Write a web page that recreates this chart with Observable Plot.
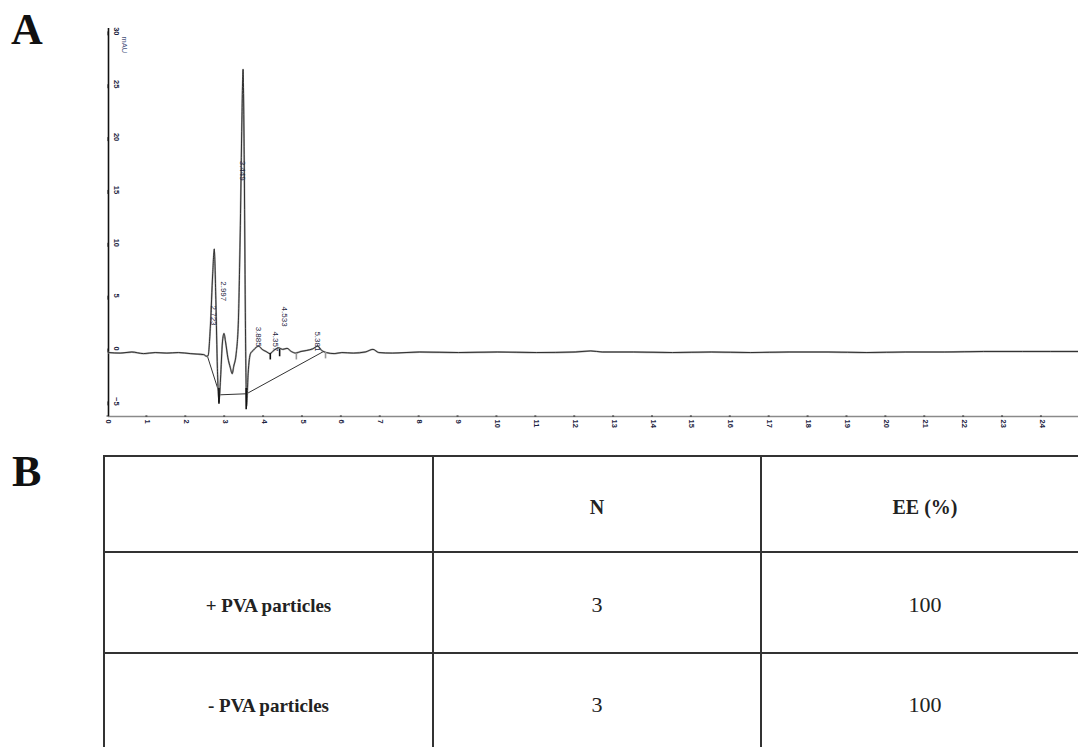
<!DOCTYPE html>
<html><head><meta charset="utf-8">
<script src="https://cdn.jsdelivr.net/npm/d3@7"></script>
<script src="https://cdn.jsdelivr.net/npm/@observablehq/plot@0.6"></script>
<style>
html,body{margin:0;padding:0;background:#fff;overflow:hidden;}
#page{position:relative;width:1078px;height:747px;overflow:hidden;background:#fff;}
.panel{position:absolute;font-family:"Liberation Serif","DejaVu Serif",serif;font-weight:bold;font-size:44px;line-height:1;color:#111;}
#chart{position:absolute;left:0;top:0;}
#tbl{position:absolute;left:103px;top:455px;width:987px;border-collapse:collapse;table-layout:fixed;}
#tbl td{border:2px solid #333;text-align:center;vertical-align:middle;padding:0;font-family:"Liberation Serif","DejaVu Serif",serif !important;color:#222;}
#tbl td.h{font-weight:bold;font-size:20px;padding-top:6px;}
#tbl td.l{font-weight:bold;font-size:19px;padding-top:6px;}
#tbl td.v{font-weight:normal;font-size:22px;padding-top:4px;}
</style></head>
<body><div id="page">
<div class="panel" style="left:11px;top:8px;">A</div>
<div class="panel" style="left:12px;top:450px;">B</div>
<div id="chart"></div>
<table id="tbl"></table>
</div>
<script>
// ---- Chromatogram (panel A) ----
const time   = [0.0, 0.3, 0.6, 0.9, 1.2, 1.5, 1.8, 2.1, 2.3, 2.45, 2.52, 2.56, 2.62, 2.68, 2.72, 2.76, 2.80, 2.84, 2.88, 2.93, 2.97, 3.01, 3.07, 3.13, 3.18, 3.22, 3.28, 3.34, 3.39, 3.43, 3.46, 3.49, 3.52, 3.55, 3.59, 3.65, 3.72, 3.80, 3.86, 3.95, 4.05, 4.15, 4.25, 4.37, 4.48, 4.59, 4.70, 4.81, 4.95, 5.10, 5.25, 5.38, 5.48, 5.60, 5.80, 6.00, 6.30, 6.60, 6.80, 6.95, 7.30, 8.0, 9.0, 10.0, 11.0, 12.0, 12.4, 12.7, 13.5, 14.5, 15.5, 16.5, 17.5, 18.5, 19.5, 20.5, 21.5, 22.5, 23.5, 24.94];
const signal = [0.0, -0.05, 0.05, -0.1, 0.0, -0.05, 0.0, -0.1, -0.15, -0.2, -0.35, -0.3, 2.5, 7.5, 9.8, 5.0, -1.5, -4.7, -2.5, 1.0, 1.8, 1.0, -0.5, -1.4, -2.0, -1.3, -0.2, 3.0, 12.0, 22.0, 26.8, 18.0, 3.0, -5.1, -2.0, -0.1, 0.2, 0.5, 0.6, 0.3, 0.1, -0.1, 0.2, 0.45, 0.3, 0.4, 0.1, -0.05, 0.1, 0.2, 0.35, 0.6, 0.2, 0.0, -0.1, 0.0, -0.05, 0.05, 0.3, 0.0, -0.05, 0.05, 0.0, 0.05, 0.0, 0.05, 0.15, 0.05, 0.05, 0.0, 0.05, 0.0, 0.05, 0.05, 0.0, 0.05, 0.05, 0.1, 0.1, 0.1];
// integration baseline
const baseTime  = [2.54, 2.86, 3.55, 5.53];
const baseValue = [-0.3, -4.0, -3.9, 0.1];
// peak start / end markers
const markTime   = [2.84, 3.54, 4.16, 4.40, 4.83, 5.58];
const markTop    = [-3.4, -3.4, -0.1, 0.3, -0.1, 0.0];
const markBottom = [-4.9, -5.4, -0.7, -0.4, -0.7, -0.6];
const markDark   = [true, true, true, true, false, false];
// peak retention-time labels
const peakLabel = ["2.723", "2.997", "3.449", "3.885", "4.357", "4.533", "5.381"];
const peakTime  = [2.70, 2.96, 3.44, 3.86, 4.29, 4.52, 5.37];
const peakValue = [3.5, 5.8, 17.2, 1.5, 1.05, 3.4, 1.05];
// axes
const xTicks = [0,1,2,3,4,5,6,7,8,9,10,11,12,13,14,15,16,17,18,19,20,21,22,23,24];
const yTicks = [-5,0,5,10,15,20,25,30];
const xDomain = [0, 24.94];
const yDomain = [-6.05, 30.65];
const yUnit = "mAU";

// ---- Table (panel B) ----
const colHeaders = ["", "N", "EE (%)"];
const rowLabels  = ["+ PVA particles", "- PVA particles"];
const nValues    = [3, 3];
const eeValues   = [100, 100];

const trace = time.map((t, i) => ({t, v: signal[i]}));
const baseline = baseTime.map((t, i) => ({t, v: baseValue[i]}));
const markers = markTime.map((t, i) => ({t, top: markTop[i], bottom: markBottom[i], dark: markDark[i]}));
const peaks = peakLabel.map((s, i) => ({s, t: peakTime[i], v: peakValue[i]}));

const chart = Plot.plot({
  width: 1078, height: 440,
  marginLeft: 108, marginRight: 0, marginTop: 28, marginBottom: 24,
  x: {domain: xDomain},
  y: {domain: yDomain},
  style: {fontFamily: "'Liberation Sans', Arial, sans-serif", background: "transparent", color: "#223"},
  marks: [
    Plot.ruleY([yDomain[0]], {stroke: "#8a8a8a", strokeWidth: 1.5}),
    Plot.ruleX([xDomain[0]], {stroke: "#111", strokeWidth: 1.6}),
    Plot.axisY(yTicks, {tickSize: -4, tickPadding: -4, rotate: 90, textAnchor: "middle", lineAnchor: "middle", dy: -4, fontSize: 7.5, fontWeight: "bold", fill: "#1c2340", stroke: "#111", label: null}),
    Plot.axisX(xTicks, {tickSize: 2, tickPadding: 1, rotate: 90, textAnchor: "start", lineAnchor: "middle", fontSize: 7.5, fontWeight: "bold", fill: "#1c2340", stroke: "#222", label: null}),
    Plot.text([yUnit], {frameAnchor: "top-left", dx: 19, dy: 8, rotate: 90, fontSize: 7.5, fill: "#4a5580"}),
    Plot.line(baseline, {x: "t", y: "v", stroke: "#333", strokeWidth: 1}),
    Plot.line(trace, {x: "t", y: "v", stroke: "#aaa", strokeWidth: 1.8, curve: "monotone-x"}),
    Plot.line(trace, {x: "t", y: "v", stroke: "#222", strokeWidth: 0.9, curve: "monotone-x"}),
    Plot.ruleX(markers, {x: "t", y1: "top", y2: "bottom", stroke: d => d.dark ? "#111" : "#999", strokeWidth: 1.6}),
    Plot.text(peaks, {x: "t", y: "v", text: "s", rotate: 90, fontSize: 8, fill: "#1c2340", textAnchor: "middle", lineAnchor: "middle"})
  ]
});
document.getElementById("chart").appendChild(chart);

// build table
const tbl = document.getElementById("tbl");
const colW = [329, 328, 328];
const rowH = [96, 101, 100];
const cg = document.createElement("colgroup");
colW.forEach(w => { const c = document.createElement("col"); c.style.width = w + "px"; cg.appendChild(c); });
tbl.appendChild(cg);
const hr = document.createElement("tr"); hr.style.height = rowH[0] + "px";
colHeaders.forEach(h => { const td = document.createElement("td"); td.className = "h"; td.textContent = h; hr.appendChild(td); });
tbl.appendChild(hr);
rowLabels.forEach((lab, i) => {
  const tr = document.createElement("tr"); tr.style.height = rowH[i + 1] + "px";
  const a = document.createElement("td"); a.className = "l"; a.textContent = lab; tr.appendChild(a);
  const b = document.createElement("td"); b.className = "v"; b.textContent = nValues[i]; tr.appendChild(b);
  const c = document.createElement("td"); c.className = "v"; c.textContent = eeValues[i]; tr.appendChild(c);
  tbl.appendChild(tr);
});
</script>
</body></html>
